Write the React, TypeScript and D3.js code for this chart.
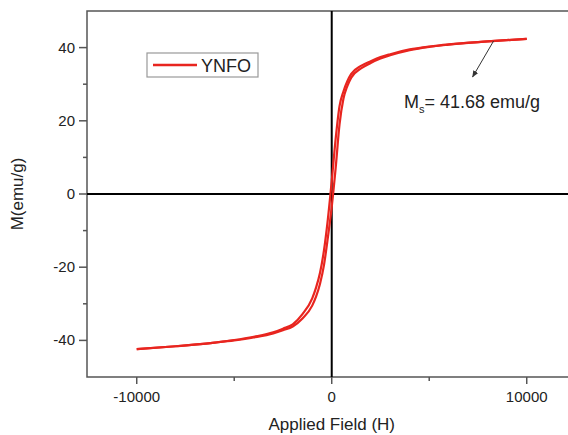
import React from 'react';
import * as d3 from 'd3';

// applied field (Oe) sampled along both branches
const fieldH = [
  -10000, -8000, -6000, -5000, -4000, -3000, -2500, -2000, -1500, -1000, -800, -600, -400, -200, 0,
  200, 400, 600, 800, 1000, 1500, 2000, 2500, 3000, 4000, 5000, 6000, 8000, 10000,
];
// field increasing branch
const ascendingM = [
  -42.4, -41.6, -40.6, -40.0, -39.2, -38.1, -37.2, -36.2, -34.0, -30.5, -28.0, -24.5, -19.5, -12.0, -3.5,
  7.0, 19.0, 26.0, 29.5, 31.8, 34.3, 35.8, 37.0, 37.9, 39.3, 40.2, 40.8, 41.7, 42.4,
];
// field decreasing branch
const descendingM = [
  -42.4, -41.6, -40.6, -39.9, -39.0, -37.8, -36.8, -35.6, -32.8, -28.5, -25.5, -21.5, -15.5, -7.0, 3.5,
  15.0, 24.0, 28.0, 30.8, 32.8, 35.0, 36.3, 37.4, 38.2, 39.5, 40.3, 40.9, 41.7, 42.4,
];

const xMajor = [-10000, 0, 10000];
const xMinor = [-5000, 5000];
const yMajor = [-40, -20, 0, 20, 40];
const yMinor = [-30, -10, 10, 30];

const seriesName = 'YNFO';
const msLabel = '41.68 emu/g';

const W = 568;
const H = 435;
const margin = { left: 87, top: 11, bottom: 58 };
const font = '"Liberation Sans", Arial, sans-serif';
const red = '#e8251f';

export default function App() {
  const x = d3.scaleLinear().domain([-12550, 12450]).range([margin.left, margin.left + 487.5]);
  const y = d3.scaleLinear().domain([-50, 50]).range([H - margin.bottom, margin.top]);

  const line = d3
    .line<[number, number]>()
    .x((d) => x(d[0]))
    .y((d) => y(d[1]))
    .curve(d3.curveMonotoneX);

  const up = line(fieldH.map((h, i) => [h, ascendingM[i]]));
  const down = line(fieldH.map((h, i) => [h, descendingM[i]]));

  const x0 = x.range()[0];
  const x1 = x.range()[1];
  const y0 = y.range()[0];
  const y1 = y.range()[1];

  // arrow pointing from curve near H=8200 down to the Ms label
  const ax = x(8300);
  const ay = y(41.8);

  return (
    <svg width={W} height={H} style={{ position: 'absolute', left: 0, top: 0, background: '#fff' }}>
      <defs>
        <marker id="arr" viewBox="0 0 10 10" refX="9" refY="5" markerWidth="7" markerHeight="7" orient="auto">
          <path d="M0,1 L10,5 L0,9 Z" fill="#333" />
        </marker>
      </defs>

      {/* frame */}
      <rect x={x0} y={y1} width={x1 - x0} height={y0 - y1} fill="none" stroke="#555" strokeWidth={1.5} />

      {/* crosshair at origin */}
      <line x1={x0} x2={x1} y1={y(0)} y2={y(0)} stroke="#000" strokeWidth={2} />
      <line x1={x(0)} x2={x(0)} y1={y1} y2={y0} stroke="#000" strokeWidth={2} />

      {/* x ticks */}
      {xMajor.map((t) => (
        <g key={'xt' + t}>
          <line x1={x(t)} x2={x(t)} y1={y0} y2={y0 + 7} stroke="#555" strokeWidth={1.5} />
          <text x={x(t)} y={y0 + 25} textAnchor="middle" fontFamily={font} fontSize={15} fill="#222">
            {t}
          </text>
        </g>
      ))}
      {xMinor.map((t) => (
        <line key={'xm' + t} x1={x(t)} x2={x(t)} y1={y0} y2={y0 + 4} stroke="#555" strokeWidth={1.5} />
      ))}

      {/* y ticks */}
      {yMajor.map((t) => (
        <g key={'yt' + t}>
          <line x1={x0 - 8} x2={x0} y1={y(t)} y2={y(t)} stroke="#555" strokeWidth={1.5} />
          <text x={x0 - 12} y={y(t) + 5} textAnchor="end" fontFamily={font} fontSize={15} fill="#222">
            {t}
          </text>
        </g>
      ))}
      {yMinor.map((t) => (
        <line key={'ym' + t} x1={x0 - 4} x2={x0} y1={y(t)} y2={y(t)} stroke="#555" strokeWidth={1.5} />
      ))}

      {/* loop */}
      <path d={up ?? ''} fill="none" stroke={red} strokeWidth={2.2} />
      <path d={down ?? ''} fill="none" stroke={red} strokeWidth={2.2} />

      {/* legend */}
      <rect x={147} y={53} width={111} height={24} fill="#fff" stroke="#999" strokeWidth={1.2} />
      <line x1={153} x2={197} y1={65} y2={65} stroke={red} strokeWidth={2.5} />
      <text x={201} y={71.5} fontFamily={font} fontSize={18} fill="#222">
        {seriesName}
      </text>

      {/* Ms annotation */}
      <line x1={ax} y1={ay} x2={ax - 21} y2={ay + 36} stroke="#333" strokeWidth={1} markerEnd="url(#arr)" />
      <text x={404} y={108} fontFamily={font} fontSize={18} fill="#222">
        M
        <tspan fontSize={11} dy={5}>
          s
        </tspan>
        <tspan dy={-5}>= {msLabel}</tspan>
      </text>

      {/* axis titles */}
      <text x={x(0)} y={430} textAnchor="middle" fontFamily={font} fontSize={17} fill="#222">
        Applied Field (H)
      </text>
      <text
        transform={`translate(23, ${y(0)}) rotate(-90)`}
        textAnchor="middle"
        fontFamily={font}
        fontSize={17}
        fill="#222"
      >
        M(emu/g)
      </text>
    </svg>
  );
}
